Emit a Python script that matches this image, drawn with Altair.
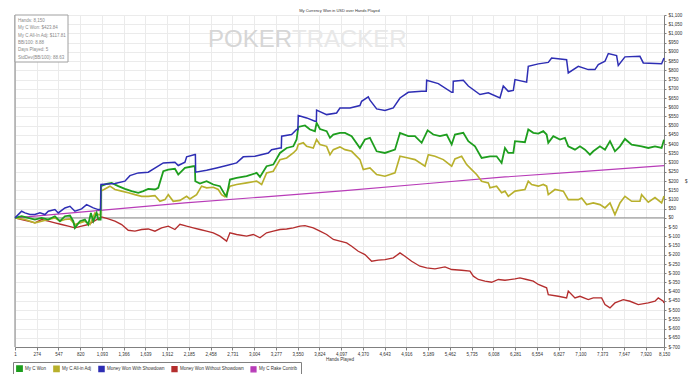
import altair as alt
import pandas as pd

series_names = ["My C Won", "My C All-in Adj", "Money Won With Showdown",
                "Money Won Without Showdown", "My C Rake Contrib"]
series_colors = ["#1e9e1e", "#b8b02c", "#2e2eb4", "#b42e2e", "#b83cb8"]
series_widths = [1.8, 1.2, 1.2, 1.2, 1.2]

x_ticks = [1, 274, 547, 820, 1093, 1366, 1639, 1912, 2185, 2458, 2731, 3004, 3277,
           3550, 3824, 4097, 4370, 4643, 4916, 5189, 5462, 5735, 6008, 6281, 6554,
           6827, 7100, 7373, 7647, 7920, 8150]
y_ticks = list(range(-700, 1101, 50))

# (hands, USD)
won_pts = [(1,0),(84,9),(167,0),(251,-9),(335,0),(419,-9),(502,9),(565,-18),(628,9),(691,13),
           (733,-18),(753,-54),(816,-18),(879,-9),(921,-36),(954,27),(984,-18),(1026,27),(1047,-9),
           (1076,-9),(1080,172),(1151,184),(1214,190),(1298,172),(1381,157),(1465,145),(1549,136),
           (1612,145),(1674,157),(1758,154),(1800,163),(1863,253),(1926,262),(2009,266),(2051,235),
           (2135,271),(2239,280),(2260,280),(2265,199),(2323,186),(2407,199),(2491,181),(2574,172),
           (2637,126),(2658,117),(2700,208),(2784,217),(2909,226),(3035,244),(3077,222),(3160,280),
           (3244,289),(3328,352),(3412,379),(3495,388),(3537,425),(3558,493),(3642,501),(3705,479),
           (3767,470),(3788,515),(3830,482),(3914,470),(3956,434),(3998,452),(4081,461),(4144,461),
           (4228,443),(4332,379),(4395,425),(4458,434),(4542,361),(4646,352),(4772,370),(4835,461),
           (4939,443),(5023,443),(5107,407),(5182,475),(5253,452),(5337,443),(5421,452),(5484,398),
           (5525,452),(5630,461),(5693,416),(5777,388),(5860,325),(5965,334),(6048,334),(6111,298),
           (6153,379),(6195,352),(6258,352),(6279,416),(6404,410),(6446,479),(6509,461),(6572,457),
           (6634,470),(6676,452),(6697,407),(6760,443),(6844,425),(6906,434),(6948,388),(7032,370),
           (7095,388),(7158,370),(7220,343),(7262,361),(7346,388),(7409,370),(7472,416),(7534,361),
           (7597,388),(7660,428),(7744,397),(7869,388),(7953,379),(8037,388),(8120,379),(8150,424)]

allin_pts = [(1,0),(126,-9),(251,-27),(335,-18),(419,-9),(502,0),(565,-18),(628,-9),(691,-5),
             (753,-36),(816,-27),(879,-18),(942,-36),(1005,27),(1047,18),(1076,18),(1080,145),
             (1130,157),(1193,172),(1256,154),(1340,145),(1423,136),(1507,126),(1591,117),(1674,117),
             (1758,121),(1821,90),(1884,99),(1926,126),(1988,90),(2072,95),(2156,117),(2197,103),
             (2281,126),(2344,172),(2407,163),(2491,166),(2553,154),(2595,126),(2637,114),(2700,172),
             (2784,181),(2909,190),(3035,199),(3098,181),(3160,244),(3244,253),(3328,316),(3412,325),
             (3495,352),(3537,370),(3558,398),(3621,407),(3663,388),(3746,379),(3788,425),(3830,398),
             (3914,388),(3956,343),(3998,370),(4081,385),(4144,370),(4228,361),(4332,316),(4374,262),
             (4458,271),(4542,235),(4646,226),(4772,244),(4835,334),(4939,325),(5023,316),(5149,280),
             (5191,343),(5274,334),(5379,316),(5484,280),(5525,320),(5609,334),(5672,289),(5735,262),
             (5797,235),(5860,199),(5944,190),(5965,163),(6048,172),(6111,136),(6153,145),(6195,117),
             (6279,145),(6404,154),(6446,199),(6488,181),(6572,172),(6634,181),(6676,172),(6697,126),
             (6781,154),(6886,145),(6948,99),(7074,99),(7116,108),(7179,72),(7262,81),(7346,72),
             (7409,54),(7472,81),(7534,18),(7597,81),(7660,117),(7744,90),(7848,90),(7869,126),
             (7953,85),(8037,110),(8120,81),(8150,118)]

sd_pts = [(1,0),(84,36),(126,27),(188,18),(251,18),(314,27),(377,18),(419,36),(502,45),(544,27),
          (628,54),(691,63),(753,36),(837,49),(900,72),(984,54),(1047,45),(1076,45),(1080,181),
          (1256,186),(1381,199),(1444,229),(1549,244),(1674,248),(1863,298),(2009,302),(2051,284),
          (2135,302),(2156,331),(2260,343),(2266,343),(2269,248),(2407,258),(2532,271),(2658,284),
          (2784,298),(2867,331),(3014,334),(3181,352),(3223,370),(3328,379),(3345,379),(3349,443),
          (3474,452),(3537,479),(3553,479),(3558,555),(3663,542),(3767,524),(3785,524),(3788,584),
          (3914,560),(4039,569),(4081,596),(4207,596),(4332,609),(4353,632),(4437,656),(4458,638),
          (4542,591),(4646,582),(4751,596),(4835,650),(4939,681),(5107,686),(5165,686),(5170,746),
          (5316,728),(5484,681),(5500,681),(5504,741),(5630,746),(5693,715),(5839,669),(5944,678),
          (6090,650),(6132,715),(6195,686),(6258,691),(6279,750),(6425,736),(6446,822),(6572,835),
          (6697,843),(6739,867),(6927,858),(6948,786),(7074,822),(7199,804),(7283,804),(7325,831),
          (7409,849),(7451,891),(7555,880),(7576,826),(7660,873),(7848,876),(7890,840),(8120,836),
          (8150,867)]

nsd_pts = [(1,0),(84,-9),(167,-18),(251,-27),(335,-9),(419,-18),(502,-27),(586,-36),(670,-45),
           (753,-54),(837,-45),(921,-36),(1026,-9),(1088,5),(1172,-5),(1256,-18),(1340,-36),
           (1423,-67),(1507,-72),(1591,-63),(1674,-60),(1758,-72),(1842,-54),(1926,-45),(2009,-63),
           (2072,-35),(2156,-45),(2239,-54),(2323,-63),(2407,-72),(2491,-81),(2574,-99),(2658,-126),
           (2700,-81),(2784,-90),(2909,-99),(2993,-90),(3077,-108),(3160,-81),(3244,-72),(3328,-63),
           (3412,-60),(3495,-54),(3579,-45),(3642,-42),(3746,-54),(3830,-72),(3914,-90),(3998,-117),
           (4081,-126),(4165,-136),(4228,-154),(4311,-181),(4395,-199),(4479,-235),(4562,-229),
           (4646,-226),(4751,-217),(4835,-190),(4897,-208),(4981,-235),(5086,-262),(5170,-271),
           (5274,-276),(5400,-266),(5484,-280),(5609,-284),(5714,-289),(5756,-316),(5818,-334),
           (5902,-343),(5986,-349),(6070,-334),(6153,-338),(6279,-331),(6341,-325),(6425,-334),
           (6509,-343),(6572,-361),(6676,-379),(6697,-416),(6823,-425),(6927,-434),(6948,-397),
           (7032,-434),(7095,-425),(7199,-443),(7262,-434),(7367,-434),(7409,-470),(7472,-488),
           (7534,-461),(7639,-443),(7723,-452),(7827,-470),(7953,-461),(8037,-452),(8078,-434),
           (8141,-452),(8150,-461)]

rake_pts = [(1,0),(1000,38),(2135,81),(3100,113),(4144,148),(5150,185),(6153,222),(7150,252),(8150,283)]

stats_lines = ["Hands: 8,150", "My C Won: $423.84", "My C All-In Adj: $117.81",
               "BB/100: 8.88", "Days Played: 5", "StdDev(BB/100): 88.63"]

rows = []
for name, pts in [("My C Rake Contrib", rake_pts), ("Money Won Without Showdown", nsd_pts),
                  ("My C All-in Adj", allin_pts), ("My C Won", won_pts),
                  ("Money Won With Showdown", sd_pts)]:
    for h, v in pts:
        rows.append({"series": name, "hands": h, "won": v})
df = pd.DataFrame(rows)
legend_df = pd.DataFrame({"series": series_names, "hands": [1] * 5, "won": [0] * 5})

FONT = "Liberation Sans"
label_expr = "datum.value < 0 ? '$-' + format(-datum.value, ',') : '$' + format(datum.value, ',')"

x_enc = alt.X("hands:Q", scale=alt.Scale(domain=[1, 8150], nice=False, zero=False),
              axis=alt.Axis(values=x_ticks, tickCount=200, format=",d", title="Hands Played",
                            grid=True, gridColor="#ebebeb", domainColor="#808080",
                            tickColor="#808080", tickSize=3, labelFontSize=4.5,
                            labelColor="#333333", titleFontSize=4.5, titleFontWeight="normal",
                            titleColor="#333333", titlePadding=1, labelPadding=1,
                            labelOverlap=False, labelFlush=False))
y_enc = alt.Y("won:Q", scale=alt.Scale(domain=[-700, 1100], nice=False),
              axis=alt.Axis(orient="right", values=y_ticks, tickCount=200, labelExpr=label_expr,
                            grid=True, gridColor="#ebebeb", domainColor="#808080",
                            tickColor="#808080", tickSize=2, labelFontSize=4.5,
                            labelColor="#333333", labelPadding=2, labelOverlap=False,
                            title="$", titleAngle=0, titleFontSize=4.5,
                            titleFontWeight="normal", titleColor="#333333",
                            titlePadding=4, titleBaseline="middle"))

legend_def = alt.Legend(title=None, orient="none", legendX=-2, legendY=347,
                        direction="horizontal", symbolType="square",
                        symbolSize=25, symbolStrokeWidth=0.6, symbolStrokeColor="#404040",
                        symbolOpacity=1,
                        labelFontSize=4.5, labelColor="#333333",
                        columnPadding=4, labelOffset=2, padding=3,
                        strokeColor="#808080", fillColor="white", labelLimit=300)
color_scale = alt.Scale(domain=series_names, range=series_colors)

legend_layer = alt.Chart(legend_df).mark_square(filled=True, opacity=0, size=1).encode(
    x=x_enc, y=y_enc,
    color=alt.Color("series:N", scale=color_scale, legend=legend_def),
)

lines = alt.Chart(df).mark_line(interpolate="linear").encode(
    x=x_enc, y=y_enc,
    color=alt.Color("series:N", scale=color_scale, legend=legend_def),
    strokeWidth=alt.StrokeWidth("series:N", scale=alt.Scale(domain=series_names, range=series_widths),
                                legend=None),
    detail="series:N",
)

one = pd.DataFrame({"a": [0]})
zero_rule = alt.Chart(pd.DataFrame({"z": [0]})).mark_rule(color="#8a8a8a", strokeWidth=1).encode(
    y=alt.Y("z:Q"))
left_rule = alt.Chart(pd.DataFrame({"l": [1]})).mark_rule(color="#808080", strokeWidth=1).encode(
    x=alt.X("l:Q"))

wm1 = alt.Chart(one).mark_text(text="POKER", fontSize=24, font=FONT, color="#d6d6d6",
                               align="left", baseline="alphabetic").encode(
    x=alt.value(193), y=alt.value(32))
wm2 = alt.Chart(one).mark_text(text="TRACKER", fontSize=24, font=FONT, color="#e8e8e8",
                               align="left", baseline="alphabetic").encode(
    x=alt.value(277), y=alt.value(32))

stat_box = alt.Chart(one).mark_rect(fill="white", stroke="#a0a0a0", strokeWidth=1).encode(
    x=alt.value(0), x2=alt.value(53), y=alt.value(0), y2=alt.value(47))
stat_text = alt.Chart(one).mark_text(text=stats_lines, fontSize=4.5, font=FONT, color="#8a8a8a",
                                     align="left", baseline="top", lineHeight=7.3).encode(
    x=alt.value(3), y=alt.value(3))

chart = alt.layer(legend_layer, wm1, wm2, zero_rule, left_rule, lines, stat_box, stat_text).properties(
    width=649, height=332,
    title=alt.TitleParams("My Currency Won in USD over Hands Played", fontSize=4,
                          fontWeight="normal", color="#333333", offset=1.5, anchor="middle",
                          font=FONT, dy=2.5),
    padding={"left": 7, "top": 7, "right": 28, "bottom": 27},
    autosize=alt.AutoSizeParams(type="none"),
).configure(font=FONT).configure_view(stroke=None)

chart.save("out.html", embed_options={"renderer": "svg", "actions": False})
